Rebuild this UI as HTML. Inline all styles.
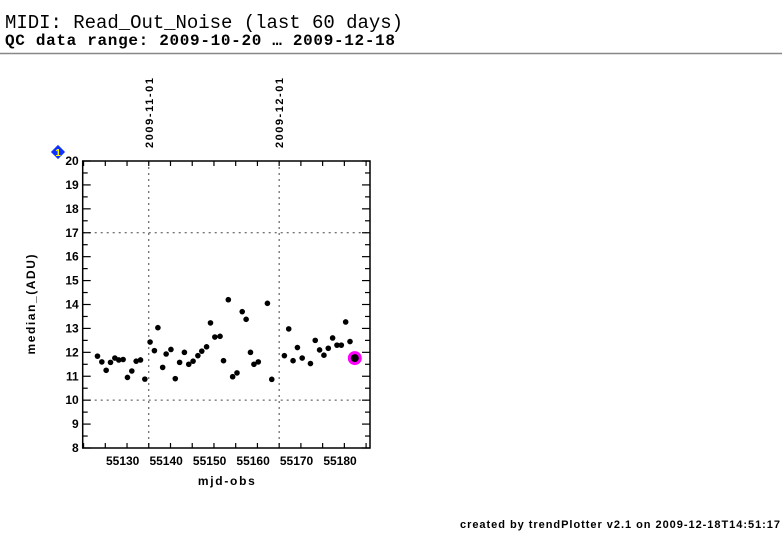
<!DOCTYPE html>
<html><head><meta charset="utf-8"><style>
body{margin:0;background:#fff;width:782px;height:542px;overflow:hidden}
svg{display:block}
</style></head><body>
<svg id="chart" width="782" height="542" xmlns="http://www.w3.org/2000/svg">
<text x="5" y="28" font-family="Liberation Mono, monospace" font-size="19" textLength="398">MIDI: Read_Out_Noise (last 60 days)</text>
<text x="5" y="45" font-family="Liberation Mono, monospace" font-size="16" font-weight="bold" textLength="390">QC data range: 2009-10-20 … 2009-12-18</text>
<line x1="0" y1="53.5" x2="782" y2="53.5" stroke="#888" stroke-width="1.5"/>
<g id="plot"></g>
<text x="460" y="528" font-family="Liberation Sans, sans-serif" font-size="11" font-weight="bold" textLength="320">created by trendPlotter v2.1 on 2009-12-18T14:51:17</text>
</svg>
<script>
const mjd=[55124.2,55125.2,55126.2,55127.2,55128.2,55129.1,55130.1,55131.1,55132.1,55133.1,55134.1,55135.1,55136.3,55137.3,55138.1,55139.2,55140,55141.1,55142.1,55143.1,55144.2,55145.2,55146.2,55147.3,55148.2,55149.3,55150.2,55151.2,55152.4,55153.2,55154.3,55155.3,55156.3,55157.5,55158.4,55159.4,55160.2,55161.2,55163.3,55164.3,55167.2,55168.2,55169.2,55170.2,55171.3,55173.2,55174.3,55175.3,55176.3,55177.3,55178.3,55179.3,55180.3,55181.3,55182.3];
const noise=[11.84,11.6,11.25,11.58,11.76,11.68,11.7,10.95,11.22,11.63,11.68,10.88,12.43,12.07,13.03,11.37,11.93,12.12,10.9,11.58,12.0,11.5,11.63,11.86,12.05,12.23,13.23,12.64,12.67,11.65,14.2,10.98,11.14,13.7,13.38,12.0,11.5,11.6,14.05,10.87,11.86,12.98,11.65,12.2,11.76,11.53,12.5,12.1,11.88,12.17,12.6,12.3,12.3,13.27,12.45];
const lastMjd=55183.4, lastVal=11.76;
const xTicks=[55130,55140,55150,55160,55170,55180];
const yTicks=[8,9,10,11,12,13,14,15,16,17,18,19,20];
const refLines=[10,17];
const dateMarks=[55136,55166];
const dateLabels=['2009-11-01','2009-12-01'];

const L=82.7,R=370,T=161,B=448,X0=55120.8,X1=55186.9,Y0=8,Y1=20;
const sx=v=>L+(v-X0)/(X1-X0)*(R-L);
const sy=v=>B-(v-Y0)/(Y1-Y0)*(B-T);
const NS='http://www.w3.org/2000/svg';
const g=document.getElementById('plot');
function mk(t,a){const e=document.createElementNS(NS,t);for(const k in a)e.setAttribute(k,a[k]);g.appendChild(e);return e;}
const F='Liberation Sans, sans-serif';

refLines.forEach(v=>{const e=mk('line',{x1:L,x2:R,y1:sy(v),y2:sy(v),stroke:'#444','stroke-dasharray':'2 4'});

});
dateMarks.forEach((d,i)=>{const x=sx(d);
const e=mk('line',{x1:x,x2:x,y1:T,y2:B,stroke:'#444','stroke-dasharray':'2 4'});


const t=mk('text',{x:0,y:0,transform:`translate(${x+4},148) rotate(-90)`,'font-family':F,'font-size':11,'font-weight':'bold',textLength:70});
t.textContent=dateLabels[i];

});

const box=mk('rect',{x:L,y:T,width:R-L,height:B-T,fill:'none',stroke:'#000','stroke-width':1.5});



for(let d=55121;d<=55186;d+=5){const x=sx(d);const big=d%10===0;const len=big?8:5;
mk('line',{x1:x,x2:x,y1:B,y2:B-len,stroke:'#000','stroke-width':1.2});
mk('line',{x1:x,x2:x,y1:T,y2:T+len,stroke:'#000','stroke-width':1.2});}
xTicks.forEach(v=>{const t=mk('text',{x:sx(v),y:B+17,'text-anchor':'middle','font-family':F,'font-size':12,'font-weight':'bold'});t.textContent=v;

});
for(let v=8;v<=20;v+=0.5){const y=sy(v);const len=v%1===0?8:5;
mk('line',{x1:L,x2:L+len,y1:y,y2:y,stroke:'#000','stroke-width':1.2});
mk('line',{x1:R,x2:R-len,y1:y,y2:y,stroke:'#000','stroke-width':1.2});}
yTicks.forEach(v=>{const t=mk('text',{x:L-4,y:sy(v)+4,'text-anchor':'end','font-family':F,'font-size':12,'font-weight':'bold'});t.textContent=v;

});

const xt=mk('text',{x:(L+R)/2,y:485,'text-anchor':'middle','font-family':F,'font-size':12,'font-weight':'bold',textLength:57});xt.textContent='mjd-obs';


const yt=mk('text',{x:0,y:0,transform:`translate(35,${(T+B)/2}) rotate(-90)`,'text-anchor':'middle','font-family':F,'font-size':12,'font-weight':'bold',textLength:100});yt.textContent='median_(ADU)';



mjd.forEach((d,i)=>{const c=mk('circle',{cx:sx(d),cy:sy(noise[i]),r:2.8,fill:'#000'});

});
const hl=mk('circle',{cx:sx(lastMjd),cy:sy(lastVal),r:5.5,fill:'#000',stroke:'#f0f',"stroke-width":3});



const dm=mk('rect',{x:-5,y:-5,width:10,height:10,fill:'#1030ff',transform:`translate(58,152) rotate(45)`});


const dt=mk('text',{x:58,y:156,'text-anchor':'middle','font-family':F,'font-size':10,'font-weight':'bold',fill:'#ff0'});dt.textContent='1';


</script>
</body></html>
